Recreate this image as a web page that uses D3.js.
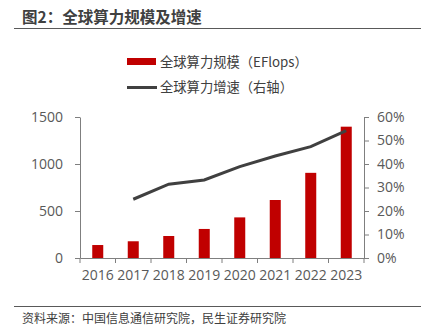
<!DOCTYPE html>
<html>
<head>
<meta charset="utf-8">
<script src="https://cdn.jsdelivr.net/npm/d3@7"></script>
<style>
  body { margin: 0; background: #fff; }
  svg { display: block; font-family: "Microsoft YaHei", "Noto Sans CJK SC", "Open Sans", sans-serif; }
</style>
</head>
<body>
<div id="chart"></div>
<script>
// yearly global compute scale and growth
var years = ["2016", "2017", "2018", "2019", "2020", "2021", "2022", "2023"];
var scale = [138, 178, 234, 309, 432, 617, 906, 1397];
var growth = [null, 25.0, 31.4, 33.2, 38.9, 43.4, 47.4, 54.2];
var leftTicks = [0, 500, 1000, 1500];
var rightTicks = [0, 10, 20, 30, 40, 50, 60];

var W = 426, H = 331;
var margin = {top: 117, right: 62, bottom: 73, left: 80},
    width = W - margin.left - margin.right,
    height = H - margin.top - margin.bottom;

var svg = d3.select("#chart").append("svg")
    .attr("width", W)
    .attr("height", H);

// title and rules
svg.append("text")
    .attr("x", 22).attr("y", 23)
    .style("font-size", "15.5px").style("font-weight", "bold")
    .style("fill", "#404040")
    .text("图2：全球算力规模及增速");
svg.append("line")
    .attr("x1", 14).attr("x2", 421).attr("y1", 28.5).attr("y2", 28.5)
    .style("stroke", "#595959").style("stroke-width", 1.2);
svg.append("line")
    .attr("x1", 14).attr("x2", 421).attr("y1", 306.5).attr("y2", 306.5)
    .style("stroke", "#595959").style("stroke-width", 1.2);
svg.append("text")
    .attr("x", 22).attr("y", 323)
    .style("font-size", "12px").style("fill", "#404040")
    .text("资料来源：中国信息通信研究院，民生证券研究院");

// legend
var legend = svg.append("g").style("font-size", "13.3px").style("fill", "#404040");
legend.append("rect")
    .attr("x", 127).attr("y", 58).attr("width", 29).attr("height", 7)
    .style("fill", "#c00000");
legend.append("text").attr("x", 160).attr("y", 66.5).text("全球算力规模（EFlops）");
legend.append("line")
    .attr("x1", 127).attr("x2", 157).attr("y1", 87.5).attr("y2", 87.5)
    .style("stroke", "#404040").style("stroke-width", 3);
legend.append("text").attr("x", 160).attr("y", 92).text("全球算力增速（右轴）");

var g = svg.append("g")
    .attr("transform", "translate(" + margin.left + "," + margin.top + ")");

var x = d3.scaleBand().domain(years).range([0, width]).paddingInner(0.69).paddingOuter(0.345);
var y = d3.scaleLinear().domain([0, 1500]).range([height, 0]);
var y2 = d3.scaleLinear().domain([0, 60]).range([height, 0]);

// bars
g.append("g").selectAll("rect")
    .data(scale)
    .enter().append("rect")
    .attr("x", function (d, i) { return x(years[i]); })
    .attr("y", function (d) { return y(d); })
    .attr("width", x.bandwidth())
    .attr("height", function (d) { return height - y(d); })
    .style("fill", "#c00000");

// growth line
var line = d3.line()
    .defined(function (d) { return d != null; })
    .x(function (d, i) { return x(years[i]) + x.bandwidth() / 2; })
    .y(function (d) { return y2(d); });
g.append("path")
    .datum(growth)
    .attr("d", line)
    .style("fill", "none")
    .style("stroke", "#404040")
    .style("stroke-width", 3);

function styleAxis(sel) {
    sel.selectAll("path, line").style("stroke", "#7f7f7f");
    sel.selectAll("text").style("fill", "#595959").style("font-size", "14px")
        .style("font-family", "'Open Sans', 'Noto Sans', sans-serif");
}

// left axis
g.append("g")
    .call(d3.axisLeft(y).tickValues(leftTicks).tickSize(5).tickSizeOuter(0).tickPadding(12)
        .tickFormat(d3.format("d")))
    .call(styleAxis);

// right axis
g.append("g")
    .attr("transform", "translate(" + width + ",0)")
    .call(d3.axisRight(y2).tickValues(rightTicks).tickSize(5).tickSizeOuter(0).tickPadding(8)
        .tickFormat(function (d) { return d + "%"; }))
    .call(styleAxis);

// x axis with ticks on band edges
var xAxis = g.append("g")
    .attr("transform", "translate(0," + height + ")")
    .call(d3.axisBottom(x).tickSize(0).tickSizeOuter(0).tickPadding(12))
    .call(styleAxis);
var step = x.step();
xAxis.selectAll(".edge")
    .data(d3.range(years.length + 1))
    .enter().append("line")
    .attr("class", "edge")
    .attr("x1", function (d) { return d * step; })
    .attr("x2", function (d) { return d * step; })
    .attr("y1", 0).attr("y2", 5)
    .style("stroke", "#7f7f7f");
</script>
</body>
</html>
